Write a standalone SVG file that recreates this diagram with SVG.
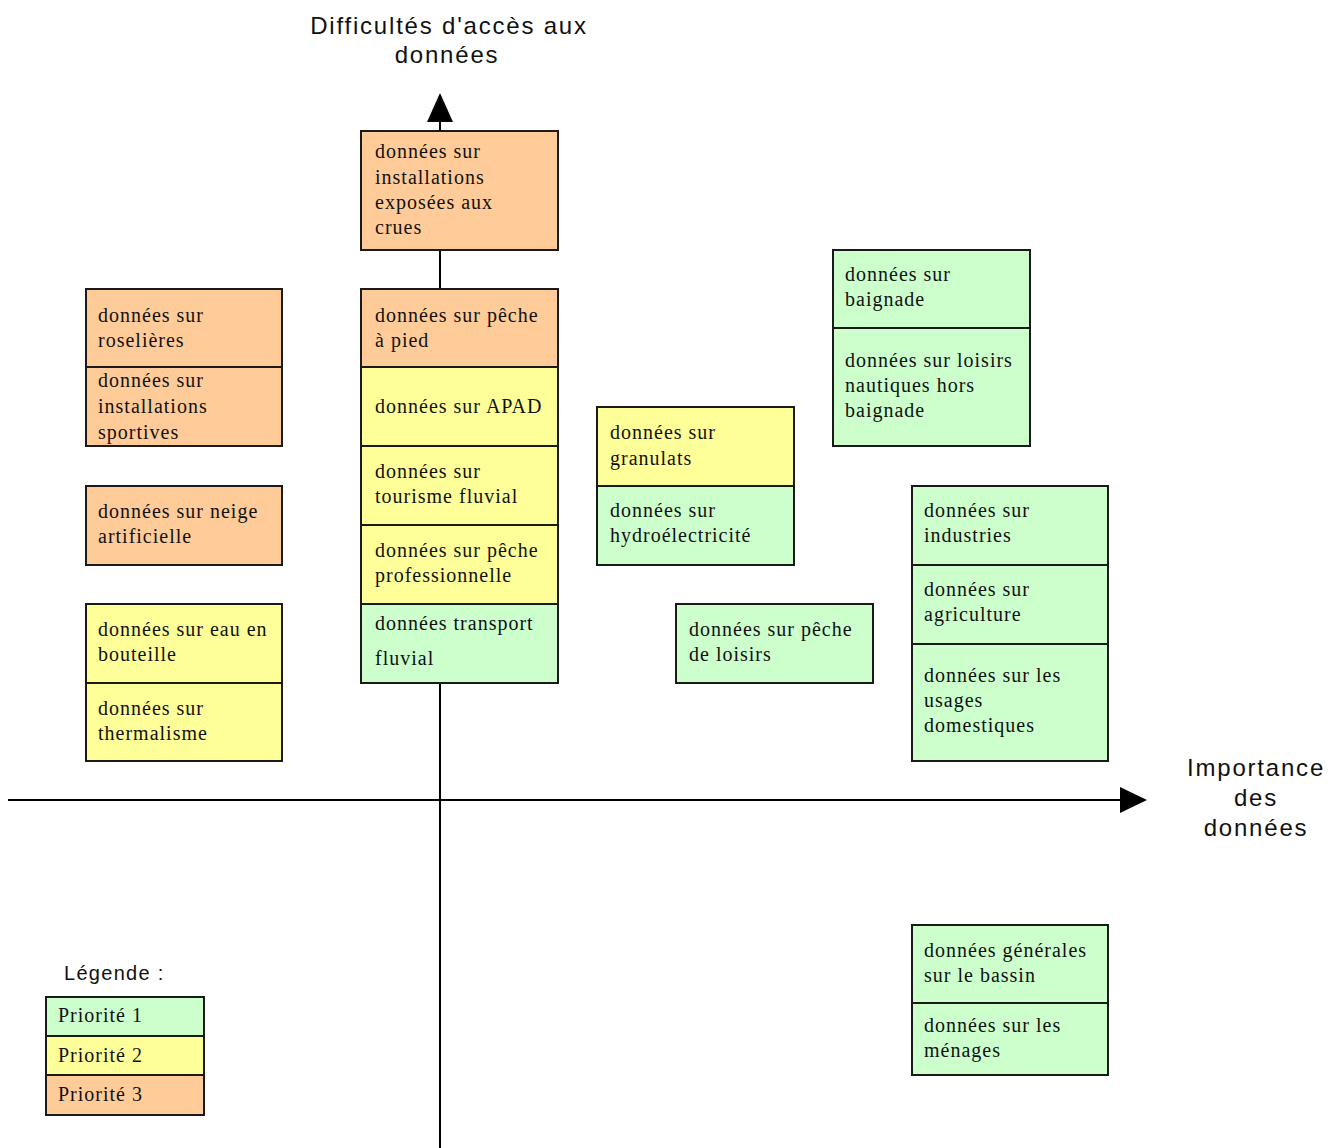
<svg xmlns="http://www.w3.org/2000/svg" width="1337" height="1148" viewBox="0 0 1337 1148">
<defs>
<style>
.p1{fill:#CCFFCC}.p2{fill:#FFFF99}.p3{fill:#FFCC99}
.box{stroke:#1a1a1a;stroke-width:2}
.div{stroke:#1a1a1a;stroke-width:2}
.t{font-family:"Liberation Serif",serif;font-size:20px;fill:#111;letter-spacing:1px}
.ax{font-family:"Liberation Sans",Arial,sans-serif;font-size:24px;fill:#111;text-anchor:middle;letter-spacing:1.8px}
.lg{font-family:"Liberation Sans",Arial,sans-serif;font-size:20px;fill:#111;letter-spacing:1.3px}
.axis{stroke:#000;stroke-width:2;fill:none}
</style>
</defs>
<rect width="1337" height="1148" fill="#fff"/>
<g id="connectors">
<line class="axis" x1="440" y1="1148" x2="440" y2="122"/>
<polygon points="440,93 427,122 453,122" fill="#000"/>
<line class="axis" x1="8" y1="800" x2="1120" y2="800"/>
<polygon points="1147,800 1120,787 1120,813" fill="#000"/>
</g>
<g id="axis-labels">
<text class="ax" x="449" y="34">Difficultés d'accès aux</text>
<text class="ax" x="447" y="63">données</text>
<text class="ax" x="1256" y="776">Importance</text>
<text class="ax" x="1256" y="806">des</text>
<text class="ax" x="1256" y="836">données</text>
</g>
<g id="node-crues">
<rect class="p3 box" x="361" y="131" width="197" height="119"/>
<text class="t" x="375" y="158">données sur</text>
<text class="t" x="375" y="184">installations</text>
<text class="t" x="375" y="209">exposées aux</text>
<text class="t" x="375" y="234">crues</text>
</g>
<g id="node-column">
<rect class="p3 box" x="361" y="289" width="197" height="78"/>
<rect class="p2 box" x="361" y="367" width="197" height="79"/>
<rect class="p2 box" x="361" y="446" width="197" height="79"/>
<rect class="p2 box" x="361" y="525" width="197" height="79"/>
<rect class="p1 box" x="361" y="604" width="197" height="79"/>
<text class="t" x="375" y="322">données sur pêche</text>
<text class="t" x="375" y="347">à pied</text>
<text class="t" x="375" y="413">données sur APAD</text>
<text class="t" x="375" y="478">données sur</text>
<text class="t" x="375" y="503">tourisme fluvial</text>
<text class="t" x="375" y="557">données sur pêche</text>
<text class="t" x="375" y="582">professionnelle</text>
<text class="t" x="375" y="630">données transport</text>
<text class="t" x="375" y="665">fluvial</text>
</g>
<g id="node-roselieres">
<rect class="p3 box" x="86" y="289" width="196" height="157"/>
<line class="div" x1="86" y1="367" x2="282" y2="367"/>
<text class="t" x="98" y="322">données sur</text>
<text class="t" x="98" y="347">roselières</text>
<text class="t" x="98" y="387">données sur</text>
<text class="t" x="98" y="413">installations</text>
<text class="t" x="98" y="439">sportives</text>
</g>
<g id="node-neige">
<rect class="p3 box" x="86" y="486" width="196" height="79"/>
<text class="t" x="98" y="518">données sur neige</text>
<text class="t" x="98" y="543">artificielle</text>
</g>
<g id="node-bouteille">
<rect class="p2 box" x="86" y="604" width="196" height="157"/>
<line class="div" x1="86" y1="683" x2="282" y2="683"/>
<text class="t" x="98" y="636">données sur eau en</text>
<text class="t" x="98" y="661">bouteille</text>
<text class="t" x="98" y="715">données sur</text>
<text class="t" x="98" y="740">thermalisme</text>
</g>
<g id="node-granulats">
<rect class="p2 box" x="597" y="407" width="197" height="79"/>
<rect class="p1 box" x="597" y="486" width="197" height="79"/>
<text class="t" x="610" y="439">données sur</text>
<text class="t" x="610" y="465">granulats</text>
<text class="t" x="610" y="517">données sur</text>
<text class="t" x="610" y="542">hydroélectricité</text>
</g>
<g id="node-peche-loisirs">
<rect class="p1 box" x="676" y="604" width="197" height="79"/>
<text class="t" x="689" y="636">données sur pêche</text>
<text class="t" x="689" y="661">de loisirs</text>
</g>
<g id="node-baignade">
<rect class="p1 box" x="833" y="250" width="197" height="196"/>
<line class="div" x1="833" y1="328" x2="1030" y2="328"/>
<text class="t" x="845" y="281">données sur</text>
<text class="t" x="845" y="306">baignade</text>
<text class="t" x="845" y="367">données sur loisirs</text>
<text class="t" x="845" y="392">nautiques hors</text>
<text class="t" x="845" y="417">baignade</text>
</g>
<g id="node-industries">
<rect class="p1 box" x="912" y="486" width="196" height="275"/>
<line class="div" x1="912" y1="565" x2="1108" y2="565"/>
<line class="div" x1="912" y1="644" x2="1108" y2="644"/>
<text class="t" x="924" y="517">données sur</text>
<text class="t" x="924" y="542">industries</text>
<text class="t" x="924" y="596">données sur</text>
<text class="t" x="924" y="621">agriculture</text>
<text class="t" x="924" y="682">données sur les</text>
<text class="t" x="924" y="707">usages</text>
<text class="t" x="924" y="732">domestiques</text>
</g>
<g id="node-generales">
<rect class="p1 box" x="912" y="925" width="196" height="150"/>
<line class="div" x1="912" y1="1003" x2="1108" y2="1003"/>
<text class="t" x="924" y="957">données générales</text>
<text class="t" x="924" y="982">sur le bassin</text>
<text class="t" x="924" y="1032">données sur les</text>
<text class="t" x="924" y="1057">ménages</text>
</g>
<g id="legend">
<text class="lg" x="64" y="980">Légende :</text>
<rect class="p1 box" x="46" y="997" width="158" height="39"/>
<rect class="p2 box" x="46" y="1036" width="158" height="39"/>
<rect class="p3 box" x="46" y="1075" width="158" height="40"/>
<text class="t" x="58" y="1022">Priorité 1</text>
<text class="t" x="58" y="1062">Priorité 2</text>
<text class="t" x="58" y="1101">Priorité 3</text>
</g>
</svg>
